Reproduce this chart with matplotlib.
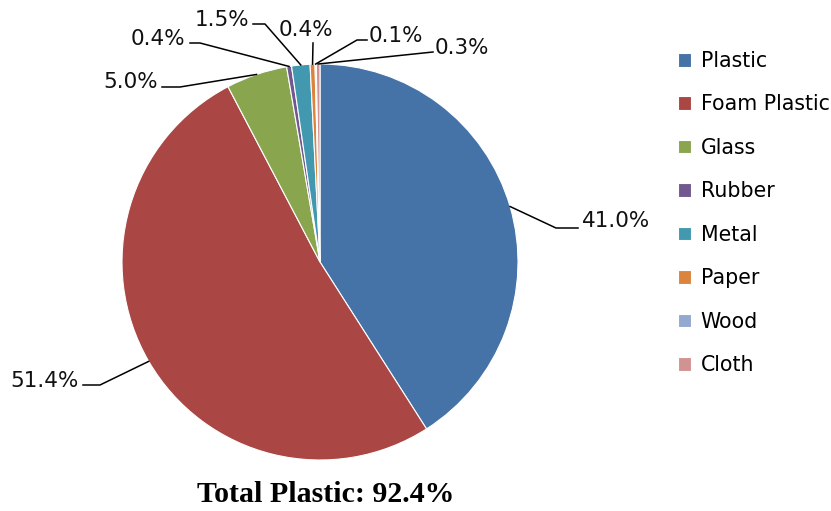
import matplotlib.pyplot as plt
import numpy as np

# waste composition shares (%)
materials = ["Plastic", "Foam Plastic", "Glass", "Rubber", "Metal", "Paper", "Wood", "Cloth"]
shares = [41.0, 51.4, 5.0, 0.4, 1.5, 0.4, 0.1, 0.3]
colors = ["#4572A7", "#AA4643", "#89A54E", "#71588F", "#4198AF", "#DB843D", "#93A9CF", "#D19392"]
title_text = "Total Plastic: 92.4%"

W, H = 831, 511
cx, cy, R = 320, 262, 198   # pie centre and radius in pixels


def px(x, y):
    # pixel position -> data units of the pie axes
    return (x - cx) / R, (cy - y) / R


# leader line bends and label anchors (pixels)
leader_pts = [
    [(556, 228), (578, 228)],
    [(100, 385), (83, 385)],
    [(180, 87), (162, 87)],
    [(200, 43), (190, 43)],
    [(265, 24), (253, 24)],
    [(313, 43)],
    [(357, 40), (367, 40)],
    [(433, 52)],
]
label_pos = [
    (582, 227, "left"),
    (79, 387, "right"),
    (158, 88, "right"),
    (185, 45, "right"),
    (249, 26, "right"),
    (306, 36, "center"),
    (369, 42, "left"),
    (435, 54, "left"),
]

fig = plt.figure(figsize=(W / 100, H / 100), dpi=100)
ax = fig.add_axes([0, 0, 1, 1])
wedges, _ = ax.pie(shares, colors=colors, startangle=90, counterclock=False, radius=1,
                   wedgeprops=dict(edgecolor="white", linewidth=0.8))
ax.set_xlim(-cx / R, (W - cx) / R)
ax.set_ylim(-(H - cy) / R, cy / R)
ax.set_aspect("auto")
ax.axis("off")

for w, v, pts, (tx, ty, ha) in zip(wedges, shares, leader_pts, label_pos):
    mid = np.deg2rad((w.theta1 + w.theta2) / 2)
    xs = [np.cos(mid)] + [px(p[0], p[1])[0] for p in pts]
    ys = [np.sin(mid)] + [px(p[0], p[1])[1] for p in pts]
    ax.plot(xs, ys, color="black", linewidth=1.1)
    x, y = px(tx, ty)
    ax.text(x, y, f"{v:.1f}%", ha=ha, va="baseline", fontsize=15.5, color="#111111")

fig.legend(wedges, materials, loc="center left", bbox_to_anchor=(678 / W, 1 - 213 / H),
           frameon=False, fontsize=14.8, handlelength=0.65, handleheight=0.65,
           handletextpad=0.45, labelspacing=1.14, borderpad=0, borderaxespad=0)

fig.text(326 / W, (H - 502) / H, title_text, ha="center", va="baseline",
         family="Liberation Serif", weight="bold", fontsize=21.5)

fig.savefig("out.png", dpi=100)
